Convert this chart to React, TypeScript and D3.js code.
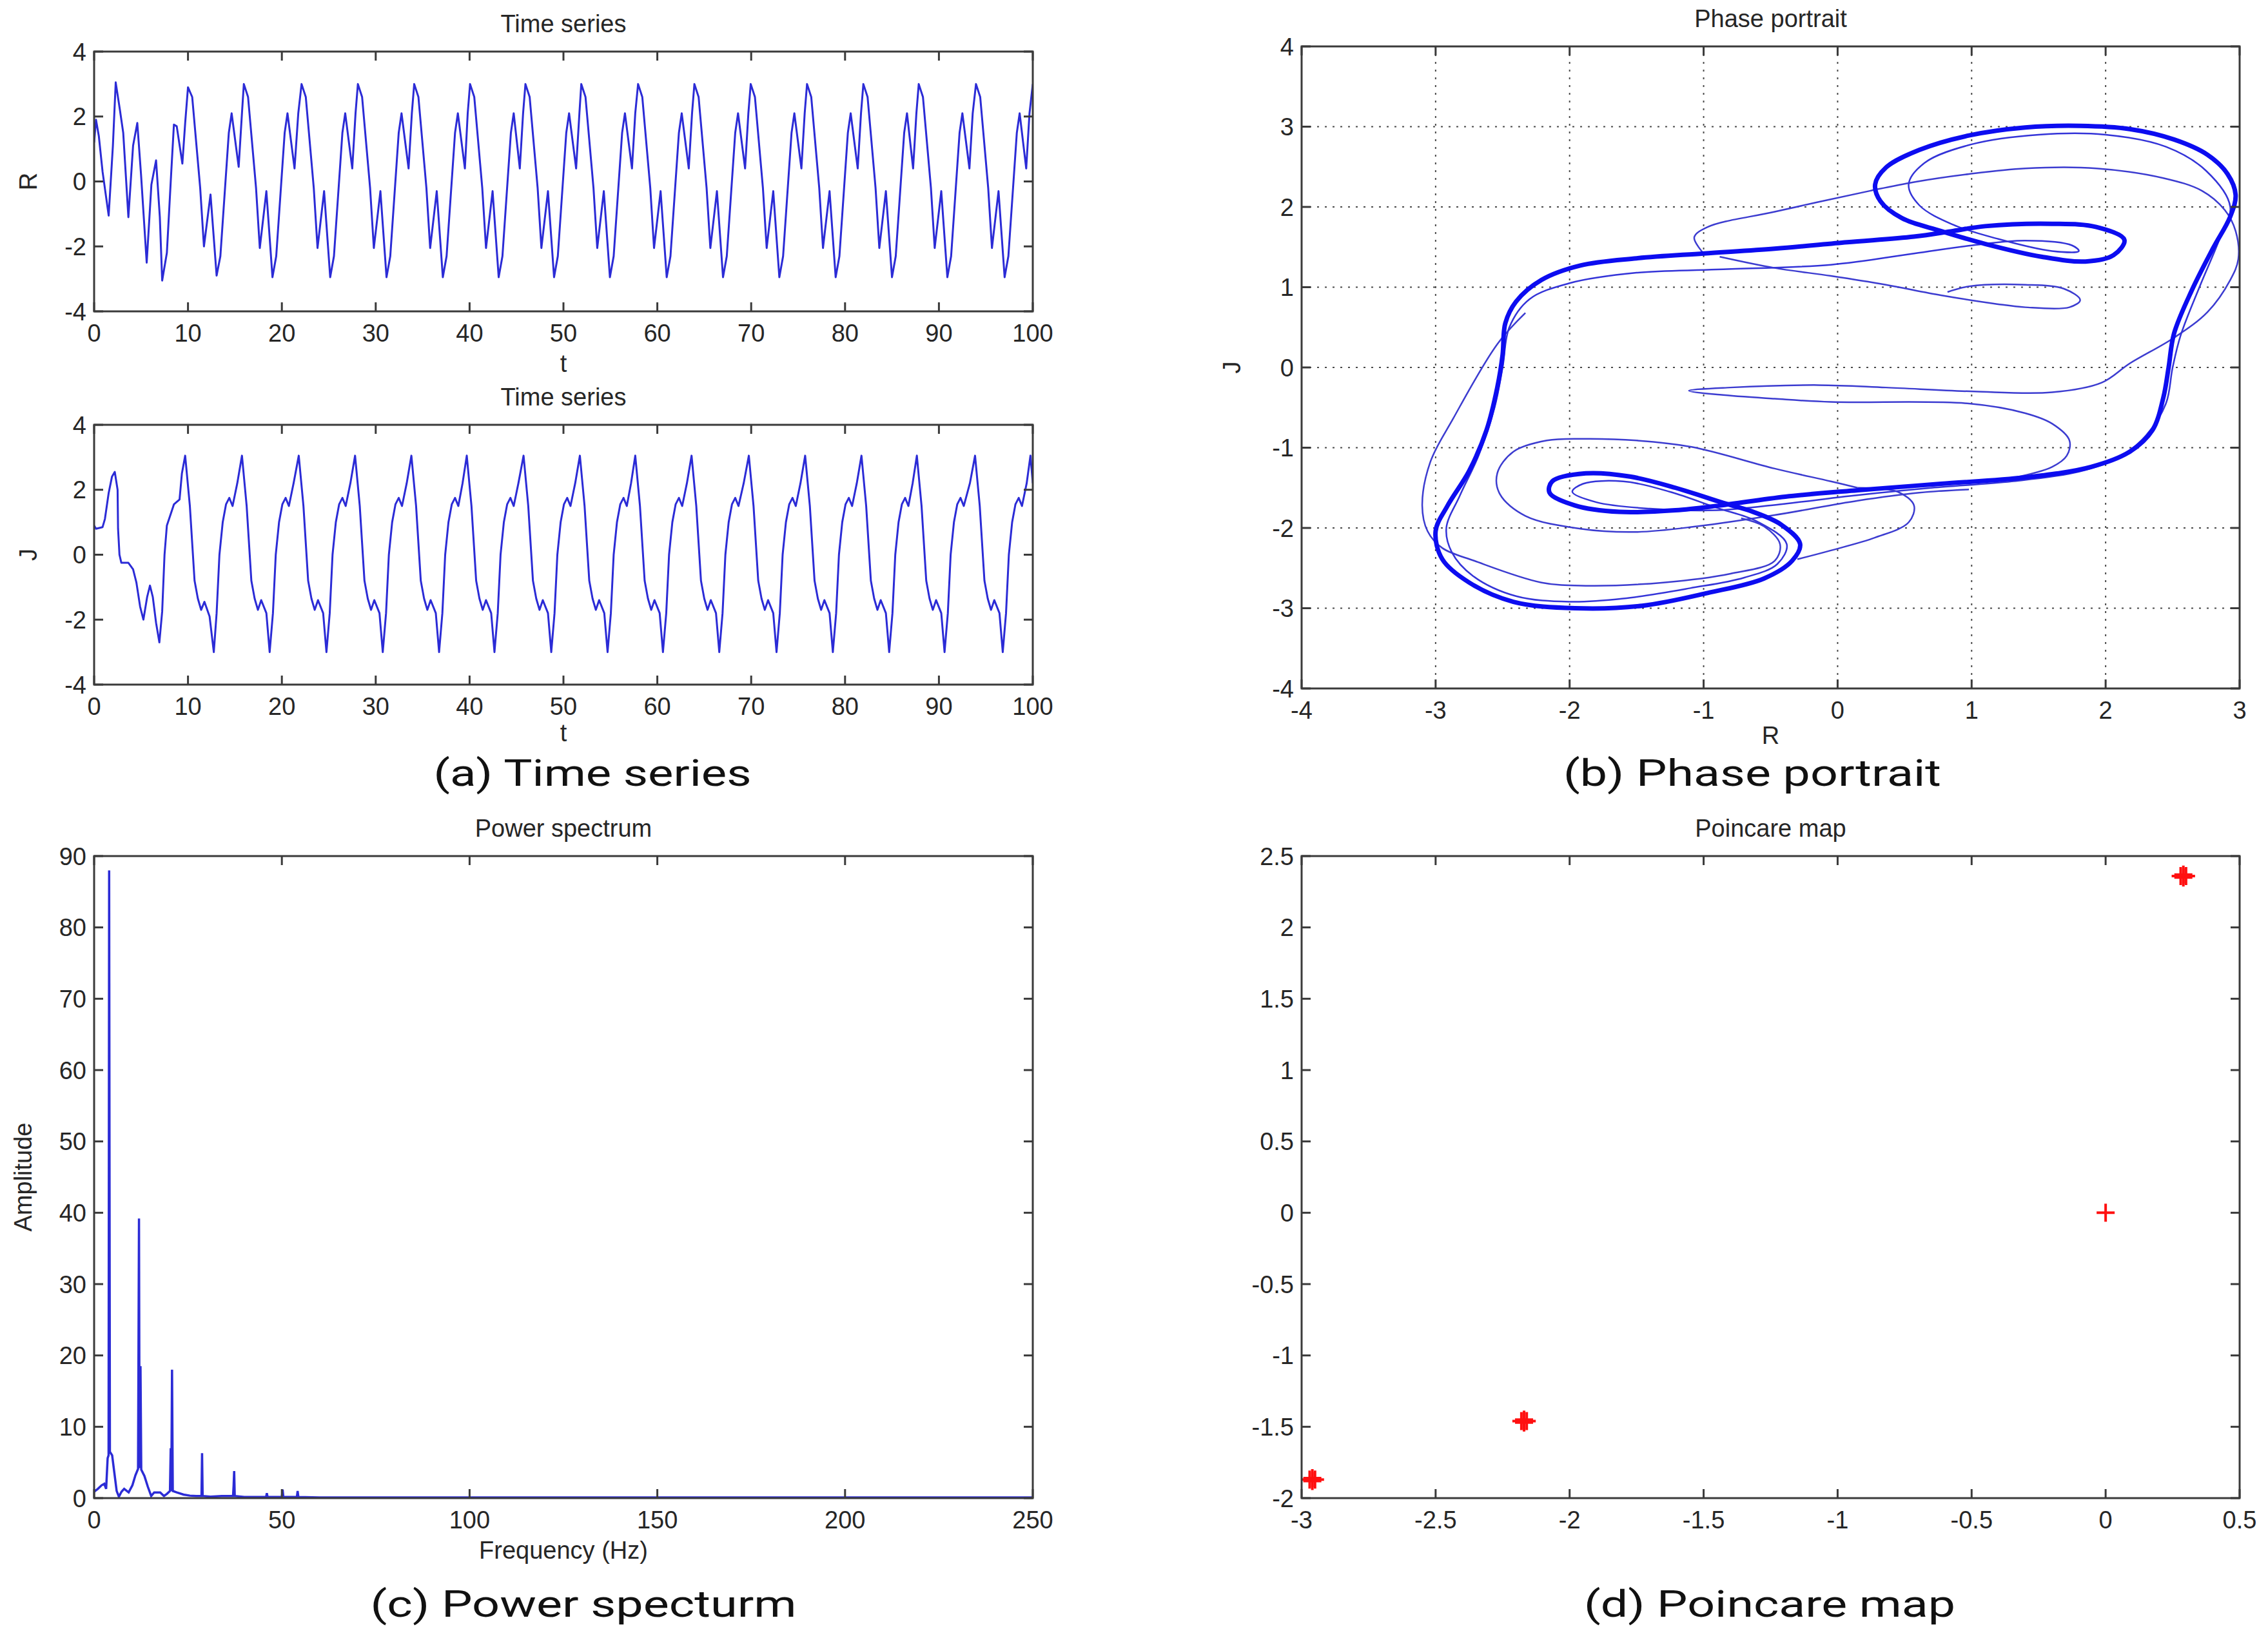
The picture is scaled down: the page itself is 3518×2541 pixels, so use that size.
import * as d3 from 'd3';

// ---- data ----

// (a) R(t): vertices of the plotted polyline [t, R]
const R_SERIES: [number, number][] = [
  [0, 1.2], [0.2, 1.9], [0.5, 1.4], [0.9, 0.3], [1.55, -1.05], [2.0, 1.1], [2.3, 3.05], [2.75, 2.2],
  [3.1, 1.5], [3.65, -1.1], [4.15, 1.1], [4.6, 1.8], [5.0, 0.2], [5.6, -2.5], [6.1, -0.1], [6.6, 0.65],
  [7.0, -1.1], [7.25, -3.05], [7.75, -2.2], [8.2, 0.2], [8.5, 1.75], [8.8, 1.7], [9.4, 0.55], [9.7, 1.8],
  [10.0, 2.9], [10.45, 2.6], [11.3, -0.2], [11.7, -2.0], [12.4, -0.4], [13.05, -2.9], [13.45, -2.3], [14.35, 1.5], [14.65, 2.1], [15.4, 0.45], [15.75, 2.1],
  [15.95, 3.0], [16.4, 2.6], [17.25, -0.2], [17.65, -2.05], [18.35, -0.3], [19.0, -2.95], [19.4, -2.3], [20.3, 1.5], [20.6, 2.1], [21.35, 0.4], [21.75, 2.1],
  [22.1, 3.0], [22.55, 2.6], [23.4, -0.2], [23.8, -2.05], [24.5, -0.3], [25.15, -2.95], [25.55, -2.3], [26.45, 1.5], [26.75, 2.1], [27.5, 0.4], [27.85, 2.1],
  [28.1, 3.0], [28.55, 2.6], [29.4, -0.2], [29.8, -2.05], [30.5, -0.3], [31.15, -2.95], [31.55, -2.3], [32.45, 1.5], [32.75, 2.1], [33.5, 0.4], [33.85, 2.1],
  [34.1, 3.0], [34.55, 2.6], [35.4, -0.2], [35.8, -2.05], [36.5, -0.3], [37.15, -2.95], [37.55, -2.3], [38.45, 1.5], [38.75, 2.1], [39.5, 0.4], [39.8, 2.1],
  [40.05, 3.0], [40.5, 2.6], [41.35, -0.2], [41.75, -2.05], [42.45, -0.3], [43.1, -2.95], [43.5, -2.3], [44.4, 1.5], [44.7, 2.1], [45.35, 0.4], [45.7, 2.1],
  [45.95, 3.0], [46.4, 2.6], [47.25, -0.2], [47.65, -2.05], [48.35, -0.3], [49.0, -2.95], [49.4, -2.3], [50.3, 1.5], [50.6, 2.1], [51.35, 0.4], [51.7, 2.1],
  [51.9, 3.0], [52.35, 2.6], [53.2, -0.2], [53.6, -2.05], [54.3, -0.3], [54.95, -2.95], [55.35, -2.3], [56.25, 1.5], [56.55, 2.1], [57.3, 0.4], [57.65, 2.1],
  [57.95, 3.0], [58.4, 2.6], [59.25, -0.2], [59.65, -2.05], [60.35, -0.3], [61.0, -2.95], [61.4, -2.3], [62.3, 1.5], [62.6, 2.1], [63.35, 0.4], [63.7, 2.1],
  [63.95, 3.0], [64.4, 2.6], [65.25, -0.2], [65.65, -2.05], [66.35, -0.3], [67.0, -2.95], [67.4, -2.3], [68.3, 1.5], [68.6, 2.1], [69.35, 0.4], [69.7, 2.1],
  [69.95, 3.0], [70.4, 2.6], [71.25, -0.2], [71.65, -2.05], [72.35, -0.3], [73.0, -2.95], [73.4, -2.3], [74.3, 1.5], [74.6, 2.1], [75.35, 0.4], [75.7, 2.1],
  [75.95, 3.0], [76.4, 2.6], [77.25, -0.2], [77.65, -2.05], [78.35, -0.3], [79.0, -2.95], [79.4, -2.3], [80.3, 1.5], [80.6, 2.1], [81.35, 0.4], [81.7, 2.1],
  [81.95, 3.0], [82.4, 2.6], [83.25, -0.2], [83.65, -2.05], [84.35, -0.3], [85.0, -2.95], [85.4, -2.3], [86.3, 1.5], [86.6, 2.1], [87.25, 0.4], [87.6, 2.1],
  [87.85, 3.0], [88.3, 2.6], [89.15, -0.2], [89.55, -2.05], [90.25, -0.3], [90.9, -2.95], [91.3, -2.3], [92.2, 1.5], [92.5, 2.1], [93.25, 0.4], [93.6, 2.1],
  [93.95, 3.0], [94.4, 2.6], [95.25, -0.2], [95.65, -2.05], [96.35, -0.3], [97.0, -2.95], [97.4, -2.3], [98.3, 1.5], [98.6, 2.1], [99.3, 0.4], [99.65, 2.1],
  [100, 3.0],
];

// (a) J(t)
const J_SERIES: [number, number][] = [
  [0, 0.9], [0.2, 0.8], [0.9, 0.85], [1.15, 1.1], [1.55, 1.9], [1.9, 2.4], [2.2, 2.55], [2.5, 2.0], [2.55, 0.8],
  [2.7, 0.0], [2.9, -0.25], [3.65, -0.25], [4.15, -0.45], [4.5, -0.85], [4.9, -1.6], [5.25, -2.0], [5.65, -1.3],
  [5.95, -0.95], [6.25, -1.3], [6.6, -2.1], [6.95, -2.7], [7.25, -1.75], [7.5, 0.0], [7.75, 0.9], [8.1, 1.2],
  [8.5, 1.55], [9.1, 1.7], [9.35, 2.5],
  [9.7, 3.05], [10.2, 1.5], [10.7, -0.8], [11.05, -1.35], [11.4, -1.7], [11.75, -1.45], [12.3, -1.9], [12.75, -3.0], [13.05, -1.8], [13.35, 0.0], [13.7, 1.0], [14.05, 1.55], [14.4, 1.75], [14.75, 1.5], [15.25, 2.2],
  [15.75, 3.05], [16.25, 1.5], [16.75, -0.8], [17.1, -1.35], [17.45, -1.7], [17.8, -1.4], [18.35, -1.8], [18.7, -3.0], [19.05, -1.8], [19.35, 0.0], [19.7, 1.0], [20.05, 1.55], [20.4, 1.75], [20.75, 1.5], [21.25, 2.2],
  [21.8, 3.05], [22.3, 1.5], [22.8, -0.8], [23.15, -1.35], [23.5, -1.7], [23.85, -1.4], [24.4, -1.8], [24.75, -3.0], [25.1, -1.8], [25.4, 0.0], [25.75, 1.0], [26.1, 1.55], [26.45, 1.75], [26.8, 1.5], [27.3, 2.2],
  [27.8, 3.05], [28.3, 1.5], [28.8, -0.8], [29.15, -1.35], [29.5, -1.7], [29.85, -1.4], [30.4, -1.8], [30.75, -3.0], [31.1, -1.8], [31.4, 0.0], [31.75, 1.0], [32.1, 1.55], [32.45, 1.75], [32.8, 1.5], [33.3, 2.2],
  [33.8, 3.05], [34.3, 1.5], [34.8, -0.8], [35.15, -1.35], [35.5, -1.7], [35.85, -1.4], [36.4, -1.8], [36.75, -3.0], [37.1, -1.8], [37.4, 0.0], [37.75, 1.0], [38.1, 1.55], [38.45, 1.75], [38.8, 1.5], [39.25, 2.2],
  [39.7, 3.05], [40.2, 1.5], [40.7, -0.8], [41.05, -1.35], [41.4, -1.7], [41.75, -1.4], [42.3, -1.8], [42.65, -3.0], [43.0, -1.8], [43.3, 0.0], [43.65, 1.0], [44.0, 1.55], [44.35, 1.75], [44.7, 1.5], [45.2, 2.2],
  [45.75, 3.05], [46.25, 1.5], [46.75, -0.8], [47.1, -1.35], [47.45, -1.7], [47.8, -1.4], [48.35, -1.8], [48.7, -3.0], [49.05, -1.8], [49.35, 0.0], [49.7, 1.0], [50.05, 1.55], [50.4, 1.75], [50.75, 1.5], [51.25, 2.2],
  [51.75, 3.05], [52.25, 1.5], [52.75, -0.8], [53.1, -1.35], [53.45, -1.7], [53.8, -1.4], [54.35, -1.8], [54.7, -3.0], [55.05, -1.8], [55.35, 0.0], [55.7, 1.0], [56.05, 1.55], [56.4, 1.75], [56.75, 1.5], [57.2, 2.2],
  [57.65, 3.05], [58.15, 1.5], [58.65, -0.8], [59.0, -1.35], [59.35, -1.7], [59.7, -1.4], [60.25, -1.8], [60.6, -3.0], [60.95, -1.8], [61.25, 0.0], [61.6, 1.0], [61.95, 1.55], [62.3, 1.75], [62.65, 1.5], [63.15, 2.2],
  [63.65, 3.05], [64.15, 1.5], [64.65, -0.8], [65.0, -1.35], [65.35, -1.7], [65.7, -1.4], [66.25, -1.8], [66.6, -3.0], [66.95, -1.8], [67.25, 0.0], [67.6, 1.0], [67.95, 1.55], [68.3, 1.75], [68.65, 1.5], [69.2, 2.2],
  [69.75, 3.05], [70.25, 1.5], [70.75, -0.8], [71.1, -1.35], [71.45, -1.7], [71.8, -1.4], [72.35, -1.8], [72.7, -3.0], [73.05, -1.8], [73.35, 0.0], [73.7, 1.0], [74.05, 1.55], [74.4, 1.75], [74.75, 1.5], [75.25, 2.2],
  [75.75, 3.05], [76.25, 1.5], [76.75, -0.8], [77.1, -1.35], [77.45, -1.7], [77.8, -1.4], [78.35, -1.8], [78.7, -3.0], [79.05, -1.8], [79.35, 0.0], [79.7, 1.0], [80.05, 1.55], [80.4, 1.75], [80.75, 1.5], [81.25, 2.2],
  [81.75, 3.05], [82.25, 1.5], [82.75, -0.8], [83.1, -1.35], [83.45, -1.7], [83.8, -1.4], [84.35, -1.8], [84.7, -3.0], [85.05, -1.8], [85.35, 0.0], [85.7, 1.0], [86.05, 1.55], [86.4, 1.75], [86.75, 1.5], [87.2, 2.2],
  [87.65, 3.05], [88.15, 1.5], [88.65, -0.8], [89.0, -1.35], [89.35, -1.7], [89.7, -1.4], [90.25, -1.8], [90.6, -3.0], [90.95, -1.8], [91.25, 0.0], [91.6, 1.0], [91.95, 1.55], [92.3, 1.75], [92.65, 1.5], [93.3, 2.2],
  [93.85, 3.05], [94.35, 1.5], [94.85, -0.8], [95.2, -1.35], [95.55, -1.7], [95.9, -1.4], [96.45, -1.8], [96.8, -3.0], [97.15, -1.8], [97.45, 0.0], [97.8, 1.0], [98.15, 1.55], [98.5, 1.75], [98.85, 1.5], [99.35, 2.2],
  [99.75, 3.05], [100, 2.2],
];

// (b) phase portrait, traced strands [R, J]
const MAIN_LOOP: [number, number][] = [
  [2.97, 2.15], [2.93, 1.88], [2.80, 1.48], [2.64, 0.95], [2.51, 0.42], [2.47, 0.0], [2.43, -0.38], [2.35, -0.78],
  [2.18, -1.05], [1.89, -1.24], [1.40, -1.37], [0.77, -1.45], [0.15, -1.53], [-0.39, -1.61], [-0.88, -1.72],
  [-1.21, -1.78], [-1.63, -1.80], [-1.96, -1.72], [-2.15, -1.56], [-2.13, -1.42], [-1.88, -1.32], [-1.55, -1.36],
  [-1.21, -1.50], [-0.85, -1.69], [-0.63, -1.80], [-0.42, -1.96], [-0.28, -2.20], [-0.34, -2.41], [-0.55, -2.63],
  [-0.97, -2.81], [-1.46, -2.97], [-1.96, -3.0], [-2.42, -2.92], [-2.75, -2.68], [-2.95, -2.39], [-3.0, -2.04],
  [-2.91, -1.72], [-2.75, -1.29], [-2.62, -0.78], [-2.54, -0.25], [-2.5, 0.16], [-2.48, 0.55], [-2.40, 0.82],
  [-2.21, 1.09], [-1.92, 1.27], [-1.50, 1.36], [-1.0, 1.42], [-0.47, 1.48], [0.07, 1.56], [0.57, 1.63], [0.86, 1.70],
  [1.1, 1.76], [1.60, 1.79], [1.93, 1.75], [2.14, 1.59], [2.06, 1.40], [1.85, 1.32], [1.52, 1.38], [1.1, 1.54],
  [0.77, 1.70], [0.48, 1.86], [0.32, 2.07], [0.28, 2.28], [0.36, 2.49], [0.61, 2.71], [0.98, 2.89], [1.40, 2.99],
  [1.81, 3.01], [2.18, 2.97], [2.51, 2.84], [2.76, 2.65], [2.91, 2.41],
];
const INNER_LOOP: [number, number][] = [
  [2.93, 2.0], [2.85, 1.6], [2.70, 1.0], [2.56, 0.4], [2.50, 0.0], [2.45, -0.45], [2.3, -0.85], [2.1, -1.12],
  [1.8, -1.3], [1.3, -1.42], [0.7, -1.5], [0.1, -1.6], [-0.4, -1.7], [-0.9, -1.78], [-1.4, -1.76], [-1.8, -1.68],
  [-1.98, -1.55], [-1.9, -1.45], [-1.6, -1.42], [-1.25, -1.55], [-0.9, -1.75], [-0.6, -1.92], [-0.38, -2.2],
  [-0.45, -2.45], [-0.7, -2.62], [-1.1, -2.75], [-1.6, -2.88], [-2.0, -2.92], [-2.4, -2.85], [-2.72, -2.6],
  [-2.88, -2.3], [-2.92, -2.0], [-2.82, -1.6], [-2.68, -1.1], [-2.56, -0.5], [-2.5, 0.0], [-2.45, 0.5],
  [-2.3, 0.85], [-2.0, 1.05], [-1.5, 1.18], [-0.9, 1.22], [-0.05, 1.28], [0.57, 1.42], [1.0, 1.52], [1.4, 1.58],
  [1.75, 1.52], [1.8, 1.45], [1.6, 1.45], [1.2, 1.6], [0.86, 1.78], [0.61, 2.02], [0.53, 2.28], [0.65, 2.55],
  [1.0, 2.78], [1.5, 2.9], [2.0, 2.9], [2.45, 2.75], [2.75, 2.45],
];
const UPPER_ARC: [number, number][] = [
  [-1.0, 1.42], [-1.07, 1.62], [-0.97, 1.75], [-0.47, 1.94], [0.24, 2.20], [0.57, 2.31], [0.98, 2.41], [1.40, 2.48],
  [1.93, 2.48], [2.43, 2.36], [2.72, 2.2], [2.89, 1.96], [2.97, 1.70], [2.99, 1.35], [2.93, 1.09], [2.76, 0.69],
  [2.51, 0.37], [2.18, 0.05], [1.97, -0.19], [1.60, -0.31], [1.02, -0.30], [0.36, -0.25], [-0.14, -0.22],
  [-0.80, -0.25], [-1.11, -0.29], [-0.88, -0.34], [-0.47, -0.39], [-0.05, -0.43], [0.98, -0.45], [1.40, -0.57],
  [1.60, -0.70], [1.73, -0.91], [1.71, -1.10], [1.60, -1.24], [1.3, -1.38],
];
const MID_TONGUE: [number, number][] = [
  [-0.88, 1.38], [-0.47, 1.24], [-0.05, 1.14], [0.36, 1.03], [0.77, 0.90], [1.19, 0.79], [1.40, 0.75], [1.73, 0.75],
  [1.81, 0.84], [1.69, 0.98], [1.40, 1.03], [0.98, 1.01], [0.82, 0.94],
];
const OUTER_LEFT: [number, number][] = [
  [-2.33, 0.68], [-2.54, 0.29], [-2.87, -0.64], [-3.04, -1.18], [-3.1, -1.72], [-3.06, -2.04], [-2.95, -2.25],
  [-2.71, -2.41], [-2.21, -2.68], [-1.88, -2.72], [-1.30, -2.68], [-0.80, -2.57], [-0.47, -2.41], [-0.43, -2.20],
  [-0.55, -1.98], [-0.72, -1.88],
];
const LOWER_LOOP: [number, number][] = [
  [0.15, -1.50], [-0.05, -1.42], [-0.47, -1.26], [-1.09, -0.99], [-1.50, -0.91], [-1.88, -0.89], [-2.17, -0.91],
  [-2.42, -1.05], [-2.54, -1.32], [-2.52, -1.58], [-2.33, -1.85], [-1.92, -2.01], [-1.50, -2.05], [-1.05, -1.98],
  [-0.47, -1.84], [0.15, -1.66], [0.61, -1.56], [0.98, -1.52],
];
const LOWER_HOOK: [number, number][] = [
  [0.15, -1.50], [0.45, -1.55], [0.57, -1.72], [0.53, -1.93], [0.28, -2.12], [-0.05, -2.28], [-0.30, -2.39],
];

// (c) power spectrum [frequency, amplitude]
const SPECTRUM: [number, number][] = [
  [0, 0.9], [1.0, 1.3], [2.0, 1.8], [2.7, 2.0], [3.2, 1.3], [3.6, 5.6], [3.85, 6.0], [4.0, 88], [4.2, 6.5],
  [4.8, 6.0], [5.4, 3.5], [6.0, 1.0], [6.6, 0.2], [7.3, 0.9], [8.0, 1.3], [9.2, 0.8], [10.2, 1.8], [11.0, 3.2],
  [11.7, 4.1], [11.95, 39.2], [12.1, 4.2], [12.35, 18.5], [12.55, 4.0], [13.4, 3.1], [14.3, 1.6], [15.2, 0.3],
  [16.0, 0.8], [17.6, 0.8], [18.6, 0.3], [19.4, 0.6], [20.2, 1.0], [20.4, 7.0], [20.55, 1.0], [20.75, 18.0],
  [20.95, 1.0], [22.0, 0.8], [23.8, 0.5], [25.5, 0.35], [27.2, 0.3], [28.6, 0.3], [28.75, 6.3], [28.9, 0.3],
  [31, 0.2], [34, 0.3], [37.0, 0.3], [37.15, 1.7], [37.3, 3.8], [37.45, 0.3], [40, 0.15], [45.8, 0.15], [46.0, 0.7],
  [46.2, 0.15], [50.0, 0.15], [50.2, 1.2], [50.4, 0.15], [54.0, 0.15], [54.2, 1.0], [54.4, 0.15], [60, 0.1],
  [100, 0.08], [150, 0.08], [200, 0.08], [250, 0.08],
];

// (d) Poincare section points (clusters of near-coincident crossings)
const POINCARE_R = [0.28, 0.30, 0.29, 0.29, 0.0, -2.18, -2.16, -2.17, -2.17, -2.97, -2.95, -2.96, -2.96];
const POINCARE_J = [2.36, 2.36, 2.35, 2.37, 0.0, -1.46, -1.46, -1.45, -1.47, -1.87, -1.87, -1.86, -1.88];

// ticks
const T_TICKS = [0, 10, 20, 30, 40, 50, 60, 70, 80, 90, 100];
const TS_Y_TICKS = [-4, -2, 0, 2, 4];
const PHASE_X_TICKS = [-4, -3, -2, -1, 0, 1, 2, 3];
const PHASE_Y_TICKS = [-4, -3, -2, -1, 0, 1, 2, 3, 4];
const FREQ_TICKS = [0, 50, 100, 150, 200, 250];
const AMP_TICKS = [0, 10, 20, 30, 40, 50, 60, 70, 80, 90];
const PM_X_TICKS = [-3, -2.5, -2, -1.5, -1, -0.5, 0, 0.5];
const PM_Y_TICKS = [-2, -1.5, -1, -0.5, 0, 0.5, 1, 1.5, 2, 2.5];

const W = 3518;
const H = 2541;
const MFONT = '"Liberation Sans", Arial, sans-serif';
const CFONT = 'Roboto, "Noto Sans", sans-serif';
const AXIS = '#3a3a3a';
const TXT = '#262626';
const BLUE = '#2b2bd6';

type Box = { left: number; right: number; top: number; bottom: number };

interface FrameProps {
  id: string;
  box: Box;
  x: d3.ScaleLinear<number, number>;
  y: d3.ScaleLinear<number, number>;
  xTicks: number[];
  yTicks: number[];
  title: string;
  xLabel?: string;
  xLabelGap?: number;
  yLabel?: string;
  grid?: boolean;
  yLabelX?: number;
  children?: React.ReactNode;
}

function Frame({ id, box, x, y, xTicks, yTicks, title, xLabel, xLabelGap = 94, yLabel, grid, yLabelX, children }: FrameProps) {
  const { left, right, top, bottom } = box;
  const tk = 14;
  const fs = 38;
  return (
    <g>
      <defs>
        <clipPath id={id}>
          <rect x={left} y={top} width={right - left} height={bottom - top} />
        </clipPath>
      </defs>
      {grid && (
        <g stroke="#4a4a4a" strokeWidth={2} strokeDasharray="3 9">
          {xTicks.filter(v => x(v) > left + 1 && x(v) < right - 1).map(v => (
            <line key={'gx' + v} x1={x(v)} x2={x(v)} y1={top} y2={bottom} />
          ))}
          {yTicks.filter(v => y(v) > top + 1 && y(v) < bottom - 1).map(v => (
            <line key={'gy' + v} x1={left} x2={right} y1={y(v)} y2={y(v)} />
          ))}
        </g>
      )}
      <g clipPath={`url(#${id})`}>{children}</g>
      <g stroke={AXIS} strokeWidth={3}>
        {xTicks.map(v => (
          <g key={'tx' + v}>
            <line x1={x(v)} x2={x(v)} y1={bottom} y2={bottom - tk} />
            <line x1={x(v)} x2={x(v)} y1={top} y2={top + tk} />
          </g>
        ))}
        {yTicks.map(v => (
          <g key={'ty' + v}>
            <line x1={left} x2={left + tk} y1={y(v)} y2={y(v)} />
            <line x1={right} x2={right - tk} y1={y(v)} y2={y(v)} />
          </g>
        ))}
      </g>
      <rect x={left} y={top} width={right - left} height={bottom - top} fill="none" stroke={AXIS} strokeWidth={3} />
      <g fontFamily={MFONT} fontSize={fs} fill={TXT}>
        {xTicks.map(v => (
          <text key={'lx' + v} x={x(v)} y={bottom + 47} textAnchor="middle">{String(v)}</text>
        ))}
        {yTicks.map(v => (
          <text key={'ly' + v} x={left - 12} y={y(v)} dy="0.36em" textAnchor="end">{String(v)}</text>
        ))}
        <text x={(left + right) / 2} y={top - 30} textAnchor="middle">{title}</text>
        {xLabel && <text x={(left + right) / 2} y={bottom + xLabelGap} textAnchor="middle">{xLabel}</text>}
        {yLabel && (
          <text transform={`translate(${yLabelX ?? left - 103},${(top + bottom) / 2}) rotate(-90)`} dy="0.36em" textAnchor="middle">
            {yLabel}
          </text>
        )}
      </g>
    </g>
  );
}

function Caption({ x, y, text, width }: { x: number; y: number; text: string; width: number }) {
  return (
    <text x={x} y={y} textAnchor="middle" fontFamily={CFONT} fontSize={58} fill="#111"
      textLength={width} lengthAdjust="spacingAndGlyphs">
      {text}
    </text>
  );
}

export default function App() {
  const boxR: Box = { left: 146, right: 1602, top: 80, bottom: 483 };
  const boxJ: Box = { left: 146, right: 1602, top: 659, bottom: 1062 };
  const boxP: Box = { left: 2019, right: 3474, top: 72, bottom: 1068 };
  const boxS: Box = { left: 146, right: 1602, top: 1328, bottom: 2324 };
  const boxM: Box = { left: 2019, right: 3474, top: 1328, bottom: 2324 };

  const tR = d3.scaleLinear().domain([0, 100]).range([boxR.left, boxR.right]);
  const yR = d3.scaleLinear().domain([-4, 4]).range([boxR.bottom, boxR.top]);
  const tJ = d3.scaleLinear().domain([0, 100]).range([boxJ.left, boxJ.right]);
  const yJ = d3.scaleLinear().domain([-4, 4]).range([boxJ.bottom, boxJ.top]);
  const pX = d3.scaleLinear().domain([-4, 3]).range([boxP.left, boxP.right]);
  const pY = d3.scaleLinear().domain([-4, 4]).range([boxP.bottom, boxP.top]);
  const sX = d3.scaleLinear().domain([0, 250]).range([boxS.left, boxS.right]);
  const sY = d3.scaleLinear().domain([0, 90]).range([boxS.bottom, boxS.top]);
  const mX = d3.scaleLinear().domain([-3, 0.5]).range([boxM.left, boxM.right]);
  const mY = d3.scaleLinear().domain([-2, 2.5]).range([boxM.bottom, boxM.top]);

  const lineR = d3.line<[number, number]>().x(d => tR(d[0])).y(d => yR(d[1]));
  const lineJ = d3.line<[number, number]>().x(d => tJ(d[0])).y(d => yJ(d[1]));
  const phaseOpen = d3.line<[number, number]>().x(d => pX(d[0])).y(d => pY(d[1])).curve(d3.curveCatmullRom.alpha(0.5));
  const phaseClosed = d3.line<[number, number]>().x(d => pX(d[0])).y(d => pY(d[1])).curve(d3.curveCatmullRomClosed.alpha(0.5));
  const lineS = d3.line<[number, number]>().x(d => sX(d[0])).y(d => sY(d[1]));

  const thin = [UPPER_ARC, MID_TONGUE, OUTER_LEFT, LOWER_LOOP, LOWER_HOOK];
  const plus = 14;

  return (
    <svg width={W} height={H} viewBox={`0 0 ${W} ${H}`}
      style={{ position: 'absolute', left: 0, top: 0, display: 'block', background: '#fff' }}>
      <rect width={W} height={H} fill="#fff" />

      <Frame id="clipR" box={boxR} x={tR} y={yR} xTicks={T_TICKS} yTicks={TS_Y_TICKS} title="Time series" xLabel="t" yLabel="R">
        <path d={lineR(R_SERIES) ?? ''} fill="none" stroke={BLUE} strokeWidth={3} strokeLinejoin="round" />
      </Frame>
      <Frame id="clipJ" box={boxJ} x={tJ} y={yJ} xTicks={T_TICKS} yTicks={TS_Y_TICKS} title="Time series" xLabel="t"
        xLabelGap={88} yLabel="J">
        <path d={lineJ(J_SERIES) ?? ''} fill="none" stroke={BLUE} strokeWidth={3} strokeLinejoin="round" />
      </Frame>
      <Caption x={919} y={1219} text="(a) Time series" width={493} />

      <Frame id="clipP" box={boxP} x={pX} y={pY} xTicks={PHASE_X_TICKS} yTicks={PHASE_Y_TICKS} title="Phase portrait"
        xLabel="R" xLabelGap={86} yLabel="J" grid yLabelX={1910}>
        {thin.map((s, i) => (
          <path key={i} d={phaseOpen(s) ?? ''} fill="none" stroke="#3c3cd0" strokeWidth={2.5} />
        ))}
        <path d={phaseClosed(INNER_LOOP) ?? ''} fill="none" stroke="#3434d8" strokeWidth={2.5} />
        <path d={phaseClosed(MAIN_LOOP) ?? ''} fill="none" stroke="#0c0cf0" strokeWidth={7} strokeLinejoin="round" />
      </Frame>
      <Caption x={2718} y={1219} text="(b) Phase portrait" width={586} />

      <Frame id="clipS" box={boxS} x={sX} y={sY} xTicks={FREQ_TICKS} yTicks={AMP_TICKS} title="Power spectrum"
        xLabel="Frequency (Hz)" yLabel="Amplitude" yLabelX={35}>
        <path d={lineS(SPECTRUM) ?? ''} fill="none" stroke={BLUE} strokeWidth={3.5} strokeLinejoin="miter" />
      </Frame>
      <Caption x={905} y={2508} text="(c) Power specturm" width={661} />

      <Frame id="clipM" box={boxM} x={mX} y={mY} xTicks={PM_X_TICKS} yTicks={PM_Y_TICKS} title="Poincare map">
        <g stroke="#ff1010" strokeWidth={4}>
          {POINCARE_R.map((r, i) => {
            const cx = mX(r);
            const cy = mY(POINCARE_J[i]);
            return <path key={i} d={`M${cx - plus},${cy}H${cx + plus}M${cx},${cy - plus}V${cy + plus}`} />;
          })}
        </g>
      </Frame>
      <Caption x={2745} y={2508} text="(d) Poincare map" width={576} />
    </svg>
  );
}
